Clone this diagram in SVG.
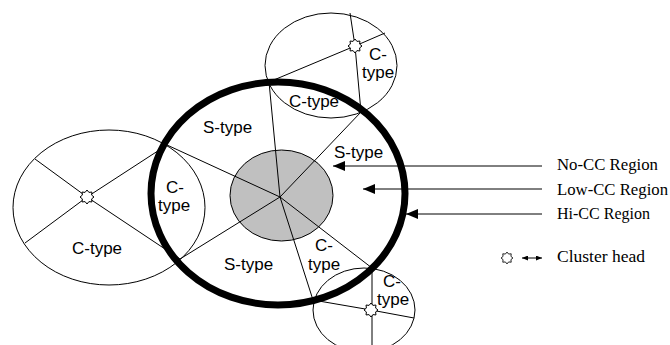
<svg xmlns="http://www.w3.org/2000/svg" xmlns:xlink="http://www.w3.org/1999/xlink" width="670" height="345" viewBox="0 0 670 345">
  <style>
    .thin { fill: none; stroke: #000; stroke-width: 1; }
    .lbl { font-family: "Liberation Sans", Arial, sans-serif; font-size: 17px; fill: #000; }
    .leg { font-family: "Liberation Serif", "Times New Roman", serif; font-size: 17px; fill: #000; }
    .ch { fill: #fff; stroke: #000; stroke-width: 1; }
  </style>
  <defs>
    <!-- cluster head symbol: small eight-pointed star -->
    <polygon id="chead" class="ch" points="0,-7 1.91,-4.62 4.95,-4.95 4.62,-1.91 7,0 4.62,1.91 4.95,4.95 1.91,4.62 0,7 -1.91,4.62 -4.95,4.95 -4.62,1.91 -7,0 -4.62,-1.91 -4.95,-4.95 -1.91,-4.62"/>
    <marker id="tip" viewBox="0 0 12 10" refX="12" refY="5" markerWidth="12" markerHeight="10" markerUnits="userSpaceOnUse" orient="auto">
      <path d="M12,5 L0,0 L0,10 Z" fill="#000"/>
    </marker>
    <marker id="tipS" viewBox="0 0 6 5" refX="6" refY="2.5" markerWidth="6" markerHeight="5" markerUnits="userSpaceOnUse" orient="auto-start-reverse">
      <path d="M6,2.5 L0,0 L0,5 Z" fill="#000"/>
    </marker>
  </defs>

  <!-- outer clusters -->
  <g id="cluster-left">
    <ellipse class="thin" cx="109" cy="207.5" rx="96" ry="77.5"/>
  </g>
  <g id="cluster-top">
    <ellipse class="thin" cx="331" cy="65.5" rx="66" ry="52.5"/>
  </g>
  <g id="cluster-bottom">
    <ellipse class="thin" cx="364" cy="310" rx="51" ry="42"/>
  </g>

  <!-- no-CC core -->
  <g id="no-cc-region">
    <ellipse cx="281.5" cy="195.5" rx="51.5" ry="45.5" fill="#c0c0c0" stroke="#000" stroke-width="1"/>
  </g>

  <!-- connectors -->
  <g id="connectors" class="thin">
    <!-- spokes from the core -->
    <line x1="280" y1="197" x2="269" y2="82"/>
    <line x1="280" y1="197" x2="361" y2="112"/>
    <line x1="280" y1="197" x2="167" y2="145"/>
    <line x1="280" y1="197" x2="180" y2="259"/>
    <line x1="280" y1="197" x2="372" y2="268"/>
    <line x1="280" y1="197" x2="313" y2="300"/>
    <!-- cluster spokes -->
    <polyline points="269,82 355,46 385,33"/>
    <polyline points="350,13 355,46 361,112"/>
    <polyline points="35,159 87,197 180,259"/>
    <polyline points="25,243 87,197 167,145"/>
    <polyline points="313,300 371,310 414,318"/>
    <line x1="372" y1="268" x2="372" y2="345"/>
    <!-- region pointers -->
    <line x1="542" y1="166" x2="333" y2="166" marker-end="url(#tip)"/>
    <line x1="542" y1="189" x2="363" y2="189" marker-end="url(#tip)"/>
    <line x1="542" y1="214" x2="406" y2="214" marker-end="url(#tip)"/>
  </g>

  <!-- low-CC boundary (hi-CC ring) -->
  <g id="hi-cc-ring">
    <ellipse cx="278" cy="193.5" rx="127" ry="111.5" fill="none" stroke="#000" stroke-width="7"/>
  </g>

  <!-- cluster heads -->
  <g id="cluster-heads">
    <use xlink:href="#chead" x="355" y="46"/>
    <use xlink:href="#chead" x="87" y="197"/>
    <use xlink:href="#chead" x="371" y="310"/>
  </g>

  <!-- sector labels -->
  <g id="labels" class="lbl">
    <text x="203" y="133">S-type</text>
    <text x="289" y="107">C-type</text>
    <text x="369" y="60">C-</text>
    <text x="362" y="78">type</text>
    <text x="334" y="158">S-type</text>
    <text x="166" y="193">C-</text>
    <text x="158" y="211">type</text>
    <text x="72" y="254">C-type</text>
    <text x="224" y="270">S-type</text>
    <text x="315" y="251">C-</text>
    <text x="308" y="270">type</text>
    <text x="383" y="287">C-</text>
    <text x="377" y="305">type</text>
  </g>

  <!-- legend -->
  <g id="legend">
    <text class="leg" x="557" y="170" textLength="101" lengthAdjust="spacingAndGlyphs">No-CC Region</text>
    <text class="leg" x="557" y="195" textLength="111" lengthAdjust="spacingAndGlyphs">Low-CC Region</text>
    <text class="leg" x="557" y="219" textLength="93" lengthAdjust="spacingAndGlyphs">Hi-CC Region</text>
    <use xlink:href="#chead" transform="translate(507,258) scale(0.85)"/>
    <line class="thin" x1="522" y1="258" x2="542" y2="258" marker-start="url(#tipS)" marker-end="url(#tipS)"/>
    <text class="leg" x="557" y="262" textLength="88" lengthAdjust="spacingAndGlyphs">Cluster head</text>
  </g>
</svg>
